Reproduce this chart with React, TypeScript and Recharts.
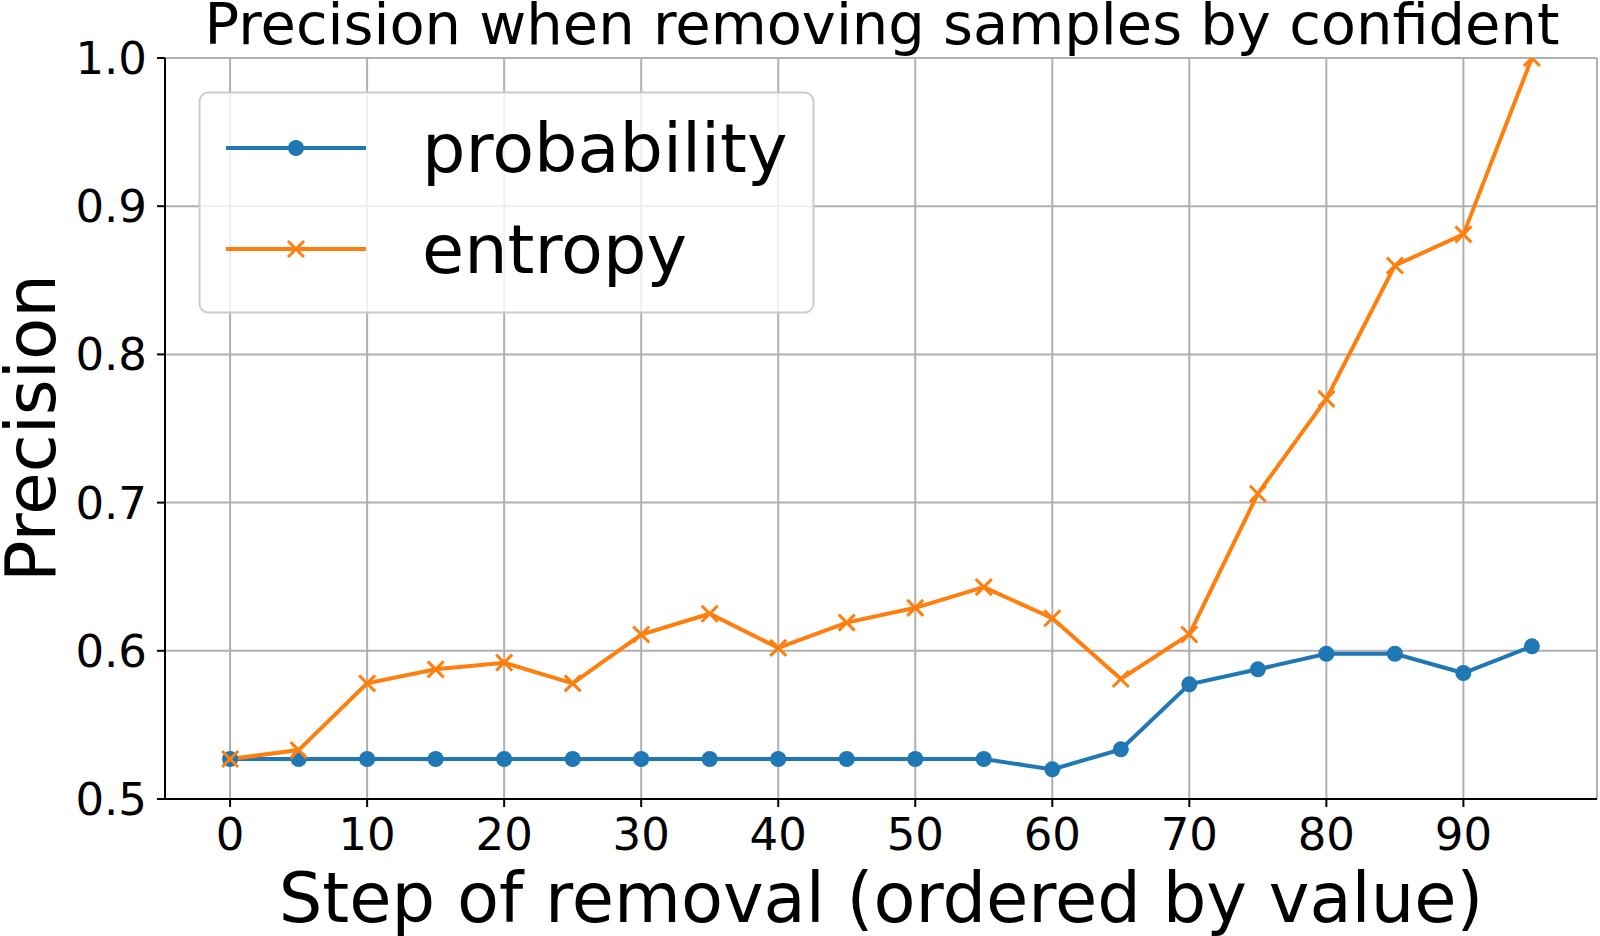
import { LineChart, Line, XAxis, YAxis, CartesianGrid } from "recharts";

const steps = [0, 5, 10, 15, 20, 25, 30, 35, 40, 45, 50, 55, 60, 65, 70, 75, 80, 85, 90, 95];
const probability = [
  0.527, 0.527, 0.527, 0.527, 0.527, 0.527, 0.527, 0.527, 0.527, 0.527,
  0.527, 0.527, 0.520, 0.5335, 0.5774, 0.5875, 0.598, 0.598, 0.585, 0.603,
];
const entropy = [
  0.527, 0.533, 0.578, 0.5875, 0.592, 0.578, 0.611, 0.625, 0.602, 0.619,
  0.629, 0.643, 0.622, 0.581, 0.611, 0.706, 0.770, 0.860, 0.881, 1.0,
];
const xTicks = [0, 10, 20, 30, 40, 50, 60, 70, 80, 90];
const yTicks = [0.5, 0.6, 0.7, 0.8, 0.9, 1.0];
const seriesNames = ["probability", "entropy"];

const BLUE = "#1f77b4";
const ORANGE = "#ff7f0e";
const FONT = "DejaVu Sans";

const data = steps.map((s, i) => ({ step: s, probability: probability[i], entropy: entropy[i] }));

const XMark = (props: any) => {
  const { cx, cy, index } = props;
  if (cx == null || cy == null) return <g key={`x-${index}`} />;
  const d = 8;
  return (
    <path
      key={`x-${index}`}
      d={`M${cx - d},${cy - d}L${cx + d},${cy + d}M${cx - d},${cy + d}L${cx + d},${cy - d}`}
      stroke={ORANGE}
      strokeWidth={3}
      fill="none"
    />
  );
};

export default function App() {
  const tickStyle = { fontSize: 45, fill: "#000", fontFamily: FONT };
  return (
    <div style={{ position: "absolute", left: 0, top: 0, width: 1600, height: 936, background: "#fff" }}>
      <LineChart width={1600} height={936} data={data} margin={{ top: 58, right: 3, bottom: 0, left: 0 }}>
        <CartesianGrid stroke="#b0b0b0" strokeWidth={2} />
        <XAxis
          dataKey="step"
          type="number"
          domain={[-4.75, 99.75]}
          ticks={xTicks}
          allowDataOverflow
          height={137}
          tick={tickStyle}
          tickSize={8}
          tickMargin={11}
          tickLine={{ stroke: "#000", strokeWidth: 2 }}
          axisLine={{ stroke: "#000", strokeWidth: 2 }}
        />
        <XAxis
          xAxisId="top"
          orientation="top"
          dataKey="step"
          type="number"
          domain={[-4.75, 99.75]}
          allowDataOverflow
          height={0}
          tick={false}
          tickLine={false}
          axisLine={{ stroke: "#000", strokeWidth: 2 }}
        />
        <YAxis
          type="number"
          domain={[0.5, 1.0]}
          ticks={yTicks}
          allowDataOverflow
          width={165}
          tick={tickStyle}
          tickSize={8}
          tickMargin={10}
          tickFormatter={(v: number) => v.toFixed(1)}
          tickLine={{ stroke: "#000", strokeWidth: 2 }}
          axisLine={{ stroke: "#000", strokeWidth: 2 }}
        />
        <YAxis
          yAxisId="right"
          orientation="right"
          type="number"
          domain={[0.5, 1.0]}
          allowDataOverflow
          width={0}
          tick={false}
          tickLine={false}
          axisLine={{ stroke: "#000", strokeWidth: 2 }}
        />
        <Line
          dataKey="probability"
          stroke={BLUE}
          strokeWidth={4}
          dot={{ r: 8, fill: BLUE, stroke: BLUE, strokeWidth: 0 }}
          isAnimationActive={false}
        />
        <Line dataKey="entropy" stroke={ORANGE} strokeWidth={4} dot={XMark} isAnimationActive={false} />
      </LineChart>

      <svg width={1600} height={936} style={{ position: "absolute", left: 0, top: 0, pointerEvents: "none" }}>
        <text x={882} y={44} textAnchor="middle" fontSize={57.5} fontFamily={FONT} fill="#000">
          Precision when removing samples by confident
        </text>
        <text x={881} y={922} textAnchor="middle" fontSize={68.7} fontFamily={FONT} fill="#000">
          Step of removal (ordered by value)
        </text>
        <text transform="translate(55,428) rotate(-90)" textAnchor="middle" fontSize={69} fontFamily={FONT} fill="#000">
          Precision
        </text>

        {/* legend */}
        <rect x={199.5} y={92.5} width={614} height={220} rx={9} fill="rgba(255,255,255,0.8)" stroke="#cccccc" strokeWidth={2} />
        <line x1={226} x2={366} y1={148} y2={148} stroke={BLUE} strokeWidth={4} />
        <circle cx={296} cy={148} r={8} fill={BLUE} />
        <text x={422} y={172} fontSize={68.5} fontFamily={FONT} fill="#000">
          {seriesNames[0]}
        </text>
        <line x1={226} x2={366} y1={249} y2={249} stroke={ORANGE} strokeWidth={4} />
        <path d="M288,241L304,257M288,257L304,241" stroke={ORANGE} strokeWidth={3} />
        <text x={422} y={273} fontSize={68.5} fontFamily={FONT} fill="#000">
          {seriesNames[1]}
        </text>
      </svg>
    </div>
  );
}
